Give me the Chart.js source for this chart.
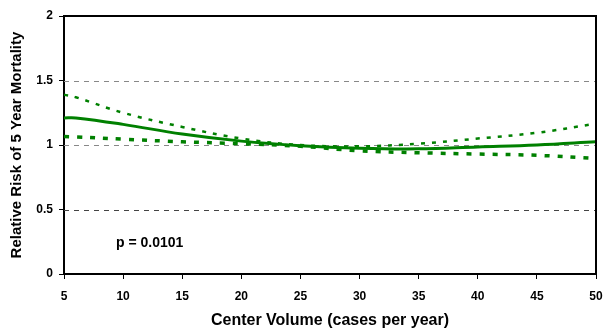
<!DOCTYPE html>
<html>
<head>
<meta charset="utf-8">
<script src="https://cdn.jsdelivr.net/npm/chart.js@4/dist/chart.umd.min.js"></script>
<style>
  html, body { margin: 0; padding: 0; background: #fff; }
  #wrap { width: 603px; height: 330px; }
</style>
</head>
<body>
<div id="wrap"><canvas id="riskChart" width="603" height="330"></canvas></div>
<script>
// ===== Data =====
const volumes = [5, 6, 10, 15, 20, 25, 30, 35, 40, 45, 50];
const riskEstimate = [1.21, 1.21, 1.16, 1.085, 1.03, 0.995, 0.975, 0.97, 0.985, 1.0, 1.025];
const upperCI = [1.39, 1.37, 1.25, 1.14, 1.05, 1.0, 0.99, 1.01, 1.05, 1.095, 1.165];
const lowerCI = [1.065, 1.063, 1.045, 1.025, 1.01, 0.99, 0.955, 0.94, 0.93, 0.92, 0.895];
const refLines = [0.5, 1, 1.5];
const pValueText = "p = 0.0101";

const GREEN = "#008000";
const FONT = "Arial, 'Liberation Sans', sans-serif";
const toPoints = (ys) => volumes.map((x, i) => ({ x: x, y: ys[i] }));

// dashed reference lines + frame + p-value label
const decorPlugin = {
    id: "decor",
    beforeDatasetsDraw(chart) {
        const { ctx, chartArea, scales } = chart;
        ctx.save();
        ctx.lineWidth = 1;
        ctx.setLineDash([5, 5]);
        refLines.forEach(v => {
            const y = Math.round(scales.y.getPixelForValue(v)) + 0.5;
            ctx.strokeStyle = v === 0.5 ? "#444" : "#888";
            ctx.beginPath();
            ctx.moveTo(chartArea.left, y);
            ctx.lineTo(chartArea.right, y);
            ctx.stroke();
        });
        ctx.restore();
    },
    afterDatasetsDraw(chart) {
        const { ctx, chartArea, scales } = chart;
        ctx.save();
        ctx.strokeStyle = "#000";
        ctx.lineWidth = 2;
        ctx.beginPath();
        ctx.moveTo(chartArea.left, chartArea.top);
        ctx.lineTo(chartArea.right, chartArea.top);
        ctx.lineTo(chartArea.right, chartArea.bottom);
        ctx.stroke();
        ctx.fillStyle = "#000";
        ctx.font = "bold 14px " + FONT;
        ctx.textBaseline = "middle";
        ctx.fillText(pValueText, scales.x.getPixelForValue(9.4), scales.y.getPixelForValue(0.24));
        ctx.restore();
    }
};

new Chart(document.getElementById("riskChart").getContext("2d"), {
    type: "line",
    data: {
        datasets: [
            {
                label: "Upper",
                data: toPoints(upperCI),
                borderColor: GREEN,
                borderWidth: 2.5,
                borderDash: [4, 7],
                pointRadius: 0,
                tension: 0.4,
                fill: false
            },
            {
                label: "Lower",
                data: toPoints(lowerCI),
                borderColor: GREEN,
                borderWidth: 3.5,
                borderDash: [5, 8],
                pointRadius: 0,
                tension: 0.4,
                fill: false
            },
            {
                label: "Relative Risk",
                data: toPoints(riskEstimate),
                borderColor: GREEN,
                borderWidth: 3,
                pointRadius: 0,
                tension: 0.4,
                fill: false
            }
        ]
    },
    options: {
        responsive: false,
        animation: false,
        layout: { padding: { left: 0, right: 7, top: 16, bottom: 0 } },
        plugins: { legend: { display: false }, tooltip: { enabled: false } },
        scales: {
            x: {
                type: "linear",
                min: 5,
                max: 50,
                border: { display: true, color: "#000", width: 2 },
                grid: { drawOnChartArea: false, color: "#000", tickLength: 5, lineWidth: 1 },
                ticks: {
                    stepSize: 5,
                    color: "#000",
                    padding: 10,
                    maxRotation: 0,
                    font: { family: FONT, size: 12, weight: "bold" }
                },
                title: {
                    display: true,
                    text: "Center Volume (cases per year)",
                    color: "#000",
                    padding: { top: 8, bottom: 0 },
                    font: { family: FONT, size: 16, weight: "bold" }
                },
                afterFit: (scale) => {
                    scale.height = 56;
                    scale.paddingRight = 0;
                    scale.paddingLeft = 0;
                }
            },
            y: {
                min: 0,
                max: 2,
                border: { display: true, color: "#000", width: 2 },
                grid: { drawOnChartArea: false, color: "#000", tickLength: 5, lineWidth: 1 },
                ticks: {
                    stepSize: 0.5,
                    color: "#000",
                    padding: 6,
                    callback: (v) => String(v),
                    font: { family: FONT, size: 12, weight: "bold" }
                },
                title: {
                    display: true,
                    text: "Relative Risk of 5 Year Mortality",
                    color: "#000",
                    padding: { top: 8, bottom: 0 },
                    font: { family: FONT, size: 15, weight: "bold" }
                },
                afterFit: (scale) => {
                    scale.width = 64;
                    scale.paddingTop = 0;
                    scale.paddingBottom = 0;
                }
            }
        }
    },
    plugins: [decorPlugin]
});
</script>
</body>
</html>
